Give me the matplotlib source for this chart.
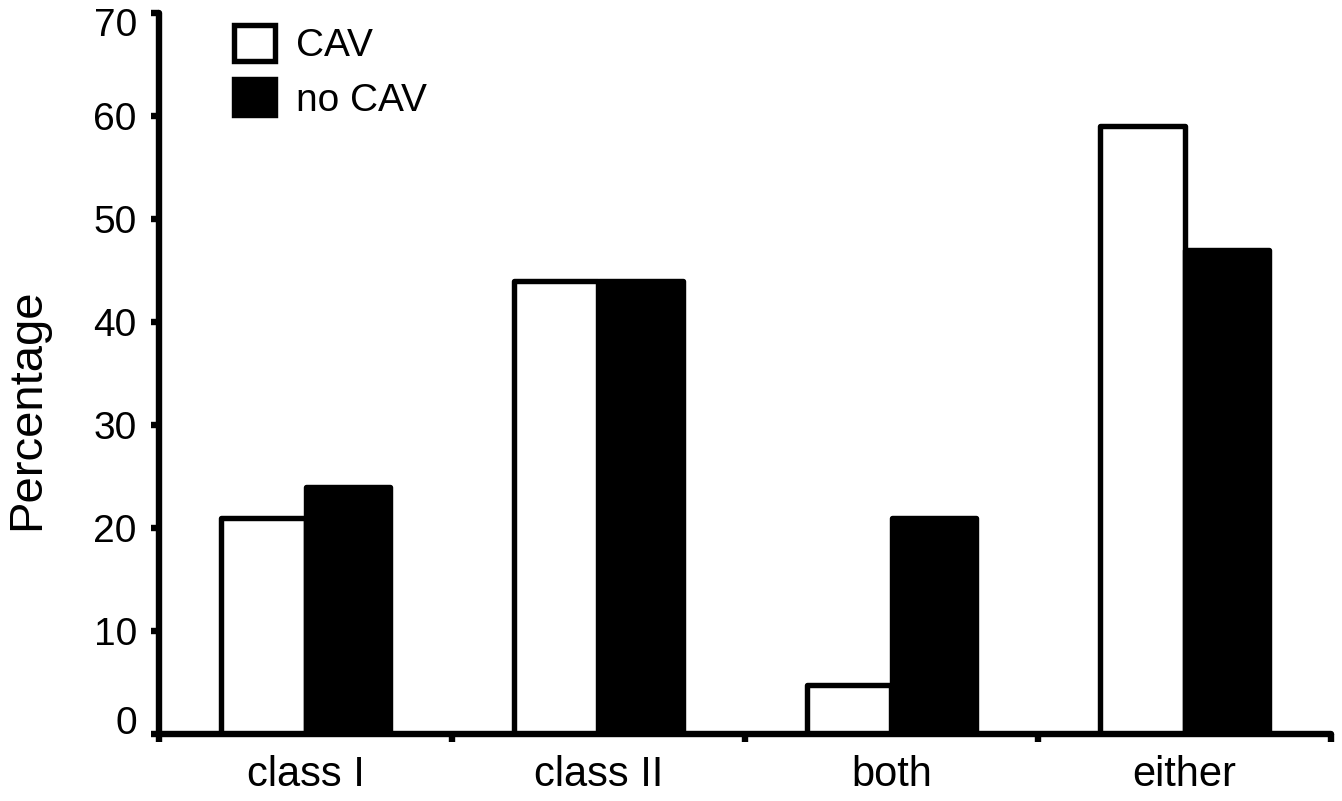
import matplotlib
matplotlib.use("Agg")
import matplotlib.pyplot as plt
import matplotlib.transforms as mtransforms
import numpy as np

categories = ["class I", "class II", "both", "either"]
cav = [21, 44, 4.8, 59]
no_cav = [24, 44, 21, 47]
series_labels = ["CAV", "no CAV"]
yticks = [0, 10, 20, 30, 40, 50, 60, 70]

plt.rcParams['font.family'] = ['Liberation Sans', 'DejaVu Sans']

W, H = 1342, 801
fig = plt.figure(figsize=(W / 100, H / 100), dpi=100)
ax = fig.add_axes([159 / W, 1 - 734 / H, (1331 - 159) / W, (734 - 13) / H])

centers = np.arange(len(categories)) + 0.5
bw = 0.288
lw_bar = 3.9
b1 = ax.bar(centers - bw / 2, cav, bw, facecolor="white", edgecolor="black",
            linewidth=lw_bar, joinstyle="round", label=series_labels[0], zorder=2)
b2 = ax.bar(centers + bw / 2, no_cav, bw, facecolor="black", edgecolor="black",
            linewidth=lw_bar, joinstyle="round", label=series_labels[1], zorder=2)

ax.set_xlim(0, len(categories))
ax.set_ylim(0, 70)

for s in ["top", "right"]:
    ax.spines[s].set_visible(False)
for s in ["left", "bottom"]:
    ax.spines[s].set_linewidth(4.6)
    ax.spines[s].set_capstyle("round")

ax.set_yticks(yticks)
ax.tick_params(axis="y", direction="out", length=6, width=4.6, pad=10, labelsize=28)
ylabels = ax.set_yticklabels([str(v) for v in yticks])
# end labels sit slightly inward in the reference
ylabels[0].set_transform(ylabels[0].get_transform() +
                         mtransforms.ScaledTranslation(0, 0.14, fig.dpi_scale_trans))
ylabels[-1].set_transform(ylabels[-1].get_transform() +
                          mtransforms.ScaledTranslation(0, -0.09, fig.dpi_scale_trans))

ax.set_xticks(np.arange(len(categories) + 1))
ax.set_xticklabels([])
ax.tick_params(axis="x", which="major", direction="out", length=6, width=4.6)
ax.set_xticks(centers, minor=True)
ax.set_xticklabels(categories, minor=True)
ax.tick_params(axis="x", which="minor", length=0, pad=15, labelsize=30)

ax.set_ylabel("Percentage", fontsize=34)
ax.yaxis.set_label_coords(-0.094, 0.45)

leg = ax.legend(handles=[b1, b2], loc="upper left", bbox_to_anchor=(0.064, 0.984),
                frameon=False, fontsize=28, borderpad=0, borderaxespad=0,
                handlelength=1.05, handleheight=1.05, handletextpad=0.55,
                labelspacing=0.4)

fig.savefig("out.png", dpi=100, facecolor="white")
